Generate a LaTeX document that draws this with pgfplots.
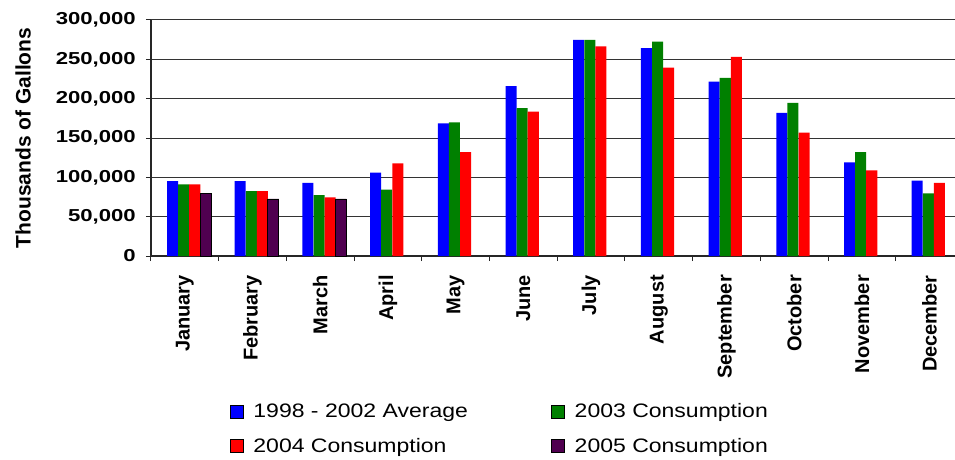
\documentclass[border=0pt]{standalone}
\usepackage{pgfplots}
\pgfplotsset{compat=1.18}
\usepackage{pgfplotstable}
\usepackage{fontspec}
\setmainfont{Liberation Sans}
\newfontfamily\tickfont[FakeStretch=1.28]{Liberation Sans}
\newfontfamily\legfont[FakeStretch=1.18]{Liberation Sans}
\definecolor{cblue}{RGB}{0,0,255}
\definecolor{cgreen}{RGB}{0,128,0}
\definecolor{cred}{RGB}{255,0,0}
\definecolor{cpurple}{RGB}{80,0,80}

\pgfplotstableread{
x avg c2003 c2004
0 95300 91000 91000
1 95300 82600 82600
2 92800 77500 74600
3 105900 84300 117800
4 168600 169900 132200
5 216100 188100 183500
6 274600 274600 266500
7 264400 272500 239400
8 221600 226300 253000
9 181800 194500 156800
10 119100 132200 108900
11 95800 79700 92800
}\mainT
\pgfplotstableread{
x c2005
0 79200
1 72500
2 72500
}\purpleT

\begin{document}
\begin{tikzpicture}
\useasboundingbox (-151pt,-204pt) rectangle (804pt,256pt);
\begin{axis}[
  at={(0pt,0pt)}, anchor=south west,
  scale only axis, width=804pt, height=236pt,
  xmin=-0.5, xmax=11.376, ymin=0, ymax=300000,
  axis x line*=bottom, axis y line*=left,
  axis line style={-, black!85, line width=1.2pt},
  ybar, bar width=0.163,
  ytick={0,50000,100000,150000,200000,250000,300000},
  yticklabels={0,{50,000},{100,000},{150,000},{200,000},{250,000},{300,000}},
  scaled y ticks=false,
  yticklabel style={font=\tickfont\bfseries\fontsize{17.3}{20}\selectfont, inner sep=0pt, xshift=4pt},
  yticklabel shift=14pt,
  ymajorgrids, major grid style={black!80, line width=1pt},
  tick align=outside, major tick length=5pt, minor tick length=5pt,
  tick style={black!85, line width=1pt},
  xtick={0,1,2,3,4,5,6,7,8,9,10,11},
  xticklabels={January,February,March,April,May,June,July,August,September,October,November,December},
  major x tick style={draw=none},
  minor xtick={-0.5,0.5,1.5,2.5,3.5,4.5,5.5,6.5,7.5,8.5,9.5,10.5},
  xticklabel style={rotate=90, anchor=east, inner sep=0pt, font=\bfseries\fontsize{20}{24}\selectfont},
  xticklabel shift=14pt,
  ylabel={Thousands of Gallons},
  ylabel style={at={(axis description cs:-0.1592,0.5)}, anchor=center, font=\bfseries\fontsize{21}{25}\selectfont},
  legend columns=2,
  legend cell align=left,
  legend style={draw=none, fill=none, inner sep=0pt, outer sep=0pt,
    at={(axis description cs:0.0983,-0.6263)}, anchor=north west,
    font=\legfont\fontsize{19.5}{23}\selectfont,
    nodes={inner sep=0pt}, row sep=18.7pt,
    /tikz/every odd column/.append style={column sep=10pt},
    /tikz/every even column/.append style={column sep=83pt}},
  legend image code/.code={\draw[#1] (0pt,-6.5pt) rectangle (13pt,6.5pt);},
]
\addplot[fill=cblue, draw=none, bar shift=-0.182] table[x=x,y=avg]{\mainT};
\addlegendentry{1998 - 2002 Average}
\addplot[fill=cgreen, draw=none, bar shift=-0.018] table[x=x,y=c2003]{\mainT};
\addlegendentry{2003 Consumption}
\addplot[fill=cred, draw=none, bar shift=0.146] table[x=x,y=c2004]{\mainT};
\addlegendentry{2004 Consumption}
\addplot[fill=cpurple, draw=black, line width=0.8pt, bar shift=0.306] table[x=x,y=c2005]{\purpleT};
\addlegendentry{2005 Consumption}
\end{axis}
\end{tikzpicture}
\end{document}
